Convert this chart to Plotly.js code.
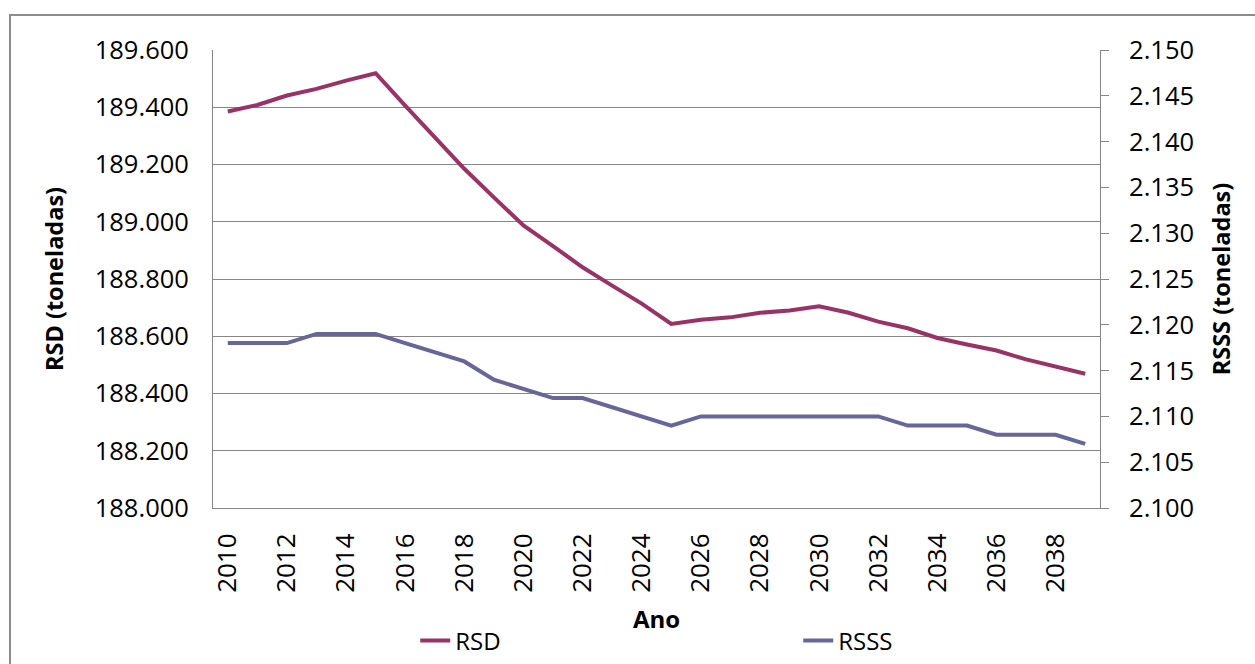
<!DOCTYPE html>
<html>
<head>
<meta charset="utf-8">
<script src="https://cdn.plot.ly/plotly-3.0.1.min.js"></script>
<style>
  html, body { margin: 0; padding: 0; background: #fff; }
  #wrap { position: relative; width: 1255px; height: 664px; overflow: hidden; }
  #chart { position: absolute; left: 0; top: 0; width: 1255px; height: 664px; }
  #frame { position: absolute; left: 9px; top: 14px; width: 1300px; height: 700px;
           border: 2px solid #8c8c8c; pointer-events: none; box-sizing: border-box; }
</style>
</head>
<body>
<div id="wrap">
  <div id="chart"></div>
  <div id="frame"></div>
</div>
<script>
const years = [2010, 2011, 2012, 2013, 2014, 2015, 2016, 2017, 2018, 2019,
               2020, 2021, 2022, 2023, 2024, 2025, 2026, 2027, 2028, 2029,
               2030, 2031, 2032, 2033, 2034, 2035, 2036, 2037, 2038, 2039];
const rsd = [189385, 189408, 189441, 189464, 189493, 189519, 189406, 189294, 189185, 189085,
             188987, 188915, 188841, 188777, 188714, 188643, 188658, 188666, 188682, 188690,
             188705, 188682, 188651, 188628, 188594, 188571, 188550, 188519, 188494, 188469];
const rsss = [2118, 2118, 2118, 2119, 2119, 2119, 2118, 2117, 2116, 2114,
              2113, 2112, 2112, 2111, 2110, 2109, 2110, 2110, 2110, 2110,
              2110, 2110, 2110, 2109, 2109, 2109, 2108, 2108, 2108, 2107];
const xTicks = [2010, 2012, 2014, 2016, 2018, 2020, 2022, 2024, 2026, 2028, 2030, 2032, 2034, 2036, 2038];
const seriesNames = ['RSD', 'RSSS'];
const axisTitles = {x: 'Ano', y: 'RSD (toneladas)', y2: 'RSSS (toneladas)'};

const FONT = 'Open Sans, Liberation Sans, sans-serif';
const GRID = '#868686';

const traces = [
  {x: years, y: rsd, name: seriesNames[0], type: 'scatter', mode: 'lines',
   line: {color: '#993366', width: 4}, yaxis: 'y'},
  {x: years, y: rsss, name: seriesNames[1], type: 'scatter', mode: 'lines',
   line: {color: '#666699', width: 4}, yaxis: 'y2'}
];

const layout = {
  width: 1255, height: 664,
  margin: {l: 213, r: 155, t: 50, b: 156, autoexpand: false},
  paper_bgcolor: 'rgba(0,0,0,0)', plot_bgcolor: '#fff',
  separators: ',.',
  font: {family: FONT, size: 25, color: '#000'},
  showlegend: true,
  legend: {orientation: 'h', x: 0.228, xanchor: 'left', y: -0.29, yanchor: 'middle',
           font: {family: FONT, size: 24, color: '#000'},
           entrywidth: 338, entrywidthmode: 'pixels', bgcolor: 'rgba(0,0,0,0)'},
  xaxis: {
    type: 'linear', range: [2009.5, 2039.5], tickvals: xTicks, ticktext: xTicks.map(String),
    tickangle: -90, showgrid: false, zeroline: false, showline: true, linecolor: GRID, linewidth: 1,
    ticks: '', ticklabelstandoff: 14,
    tickfont: {family: FONT, size: 26, color: '#000'},
    title: {text: axisTitles.x, font: {family: FONT, size: 24, color: '#000', weight: 'bold'}, standoff: 19}
  },
  yaxis: {
    range: [188000, 189600], dtick: 200, tick0: 188000, tickformat: ',.0f',
    showgrid: true, gridcolor: GRID, gridwidth: 1, zeroline: false,
    showline: true, linecolor: GRID, linewidth: 1, ticks: '', ticklabelstandoff: 18,
    tickfont: {family: FONT, size: 25.5, color: '#000'},
    title: {text: axisTitles.y, font: {family: FONT, size: 23.5, color: '#000', weight: 'bold'}, standoff: 24}
  },
  yaxis2: {
    range: [2100, 2150], dtick: 5, tick0: 2100, tickformat: ',.0f',
    overlaying: 'y', side: 'right', showgrid: false, zeroline: false,
    showline: true, linecolor: GRID, linewidth: 1, ticks: 'outside', ticklen: 8, tickcolor: GRID,
    ticklabelstandoff: 15,
    tickfont: {family: FONT, size: 25.5, color: '#000'},
    title: {text: axisTitles.y2, font: {family: FONT, size: 23.5, color: '#000', weight: 'bold'}, standoff: 20}
  }
};

Plotly.newPlot('chart', traces, layout, {displayModeBar: false, staticPlot: true});
</script>
</body>
</html>
